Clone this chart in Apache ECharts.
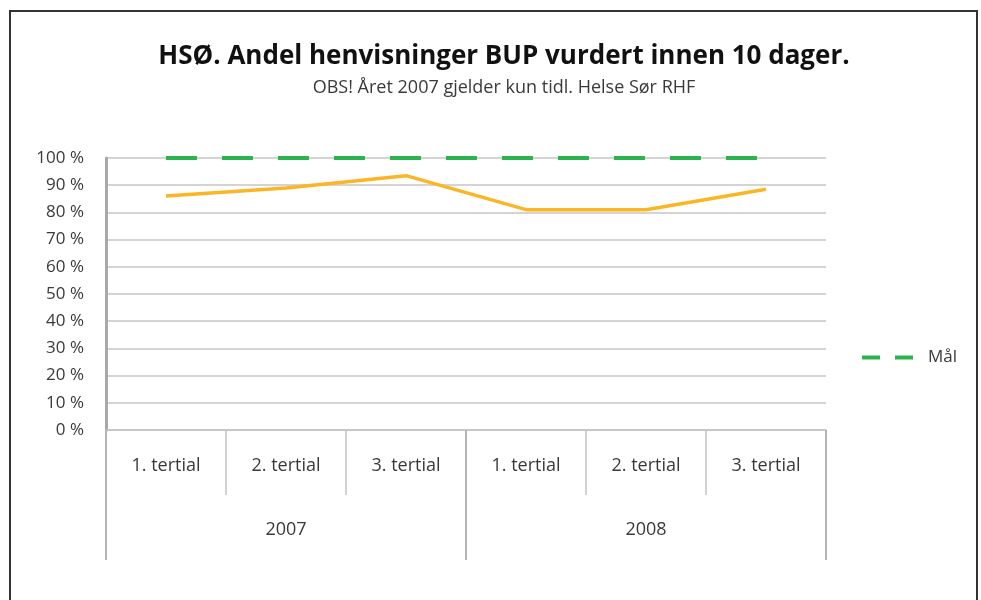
<!DOCTYPE html>
<html>
<head>
<meta charset="utf-8">
<script src="https://cdn.jsdelivr.net/npm/echarts@6/dist/echarts.min.js"></script>
<style>
  html, body { margin: 0; padding: 0; background: #fff; }
  #chart { width: 981px; height: 600px; }
</style>
</head>
<body>
<div id="chart"></div>
<script>
// data
const tertials = ['1. tertial', '2. tertial', '3. tertial', '1. tertial', '2. tertial', '3. tertial'];
const years = ['2007', '2008'];
const andel = [86, 89, 93.5, 81, 81, 88.5];
const maal = [100, 100, 100, 100, 100, 100];

const chart = echarts.init(document.getElementById('chart'));
const font = 'Open Sans';

chart.setOption({
    animation: false,
    graphic: [{
        type: 'rect',
        shape: { x: 10, y: 11, width: 967, height: 600 },
        style: { fill: 'none', stroke: '#333', lineWidth: 2 }
    }],
    title: {
        text: 'HSØ. Andel henvisninger BUP vurdert innen 10 dager.',
        subtext: 'OBS! Året 2007 gjelder kun tidl. Helse Sør RHF',
        left: 499,
        textAlign: 'center',
        top: 39,
        itemGap: 9,
        textStyle: { fontFamily: font, fontSize: 26, fontWeight: 'bold', color: '#111' },
        subtextStyle: { fontFamily: font, fontSize: 18, color: '#3a3a3a' }
    },
    legend: {
        data: ['Mål'],
        left: 857,
        top: 344,
        icon: 'path://M0,0h18v4h-18z M33,0h18v4h-18z',
        itemWidth: 51,
        itemHeight: 4,
        itemGap: 10,
        textStyle: { fontFamily: font, fontSize: 17, color: '#3a3a3a', padding: [0, 0, 0, 10] }
    },
    grid: { left: 106, right: 155, top: 158, bottom: 170 },
    xAxis: [{
        type: 'category',
        data: tertials,
        axisLine: { show: true, lineStyle: { color: '#c4c4c4', width: 1.5 } },
        axisTick: { show: true, interval: 0, length: 65, lineStyle: { color: '#c4c4c4', width: 1.5 } },
        axisLabel: { interval: 0, margin: 27, fontFamily: font, fontSize: 18, color: '#3a3a3a' }
    }, {
        type: 'category',
        data: years,
        position: 'bottom',
        axisLine: { show: false },
        axisTick: { show: true, interval: 0, length: 130, lineStyle: { color: '#b4b4b4', width: 2 } },
        axisLabel: { interval: 0, margin: 91, fontFamily: font, fontSize: 18, color: '#3a3a3a' }
    }],
    yAxis: {
        type: 'value',
        min: 0,
        max: 100,
        interval: 10,
        axisLine: { show: true, lineStyle: { color: '#a8a8a8', width: 3 } },
        axisTick: { show: false },
        axisLabel: { margin: 22, fontFamily: font, fontSize: 17, color: '#3a3a3a', formatter: '{value} %' },
        splitLine: { lineStyle: { color: '#d4d4d4', width: 2 } }
    },
    series: [{
        name: 'Andel',
        type: 'line',
        data: andel,
        symbol: 'none',
        lineStyle: { color: '#fbb626', width: 3.5 },
        itemStyle: { color: '#fbb626' }
    }, {
        name: 'Mål',
        type: 'line',
        data: maal,
        symbol: 'none',
        lineStyle: { color: '#2db34d', width: 4, type: [31, 25] },
        itemStyle: { color: '#2db34d' }
    }]
});
</script>
</body>
</html>
